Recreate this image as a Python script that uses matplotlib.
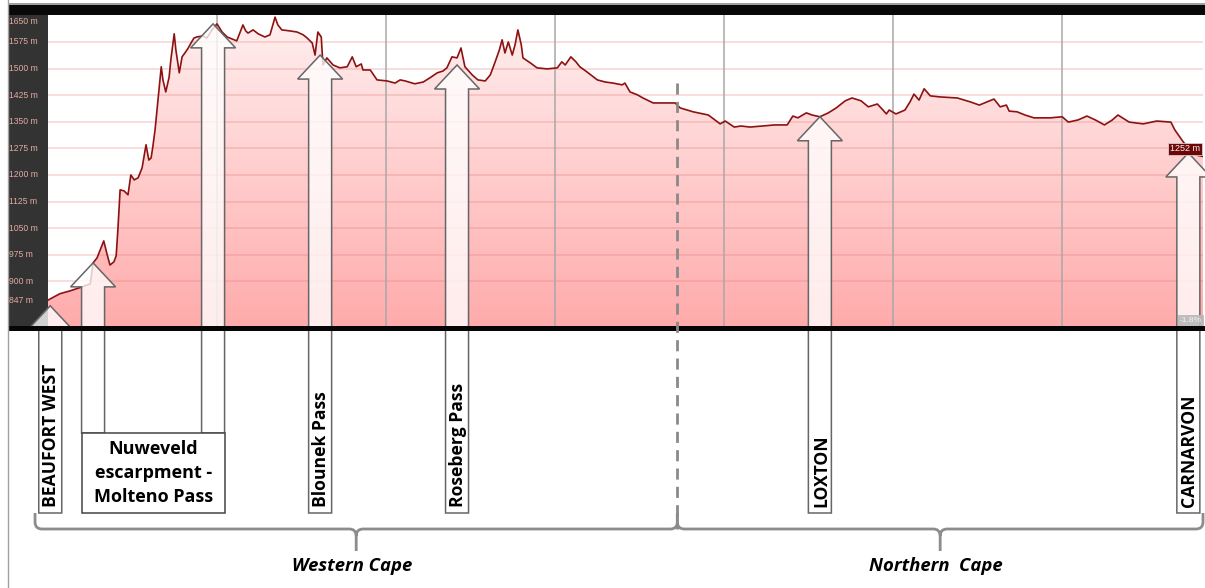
import numpy as np
import matplotlib
matplotlib.use('Agg')
import matplotlib.pyplot as plt
from matplotlib.patches import Polygon, Rectangle, PathPatch
from matplotlib.path import Path
from matplotlib.transforms import IdentityTransform
from matplotlib.lines import Line2D
from matplotlib.colors import LinearSegmentedColormap

# ---------------- data ----------------
dist_km = [0.0, 2.1, 3.9, 6.0, 7.5, 8.0, 8.7, 9.9, 10.5, 11.0,
           11.7, 12.1, 12.4, 12.8, 13.5, 14.2, 14.7, 15.3, 16.0, 16.7,
           17.4, 17.9, 18.3, 18.6, 19.0, 19.3, 19.7, 20.1, 20.4, 20.9,
           21.5, 21.8, 22.4, 22.7, 23.3, 23.8, 24.3, 24.9, 25.2, 25.9,
           26.4, 27.5, 28.2, 29.1, 30.0, 30.9, 31.8, 32.7, 33.5, 34.1,
           34.6, 35.1, 35.5, 36.4, 37.3, 38.5, 39.4, 39.9, 40.3, 40.8,
           41.5, 43.0, 44.2, 45.3, 46.0, 46.9, 47.4, 47.9, 48.5, 48.8,
           49.5, 50.6, 51.8, 53.1, 54.0, 54.7, 55.6, 55.9, 57.2, 58.4,
           60.2, 61.6, 62.5, 63.4, 65.1, 66.6, 67.8, 69.1, 70.1, 70.8,
           71.7, 72.6, 73.3, 74.0, 75.3, 76.3, 77.6, 78.5, 79.3, 80.1,
           80.6, 81.1, 81.7, 82.4, 82.9, 83.4, 84.0, 84.3, 85.6, 86.8,
           88.6, 90.4, 91.2, 91.8, 92.8, 93.7, 94.4, 95.7, 97.5, 98.9,
           100.3, 101.9, 102.4, 103.3, 104.6, 105.6, 107.4, 109.9, 111.3, 112.2,
           114.5, 117.2, 119.3, 120.2, 121.8, 123.0, 124.6, 126.7, 129.0, 131.2,
           132.2, 133.1, 134.6, 135.6, 137.0, 138.5, 139.9, 141.5, 142.7, 144.3,
           145.6, 147.2, 148.2, 148.8, 149.3, 150.5, 152.1, 153.0, 153.7, 154.6,
           155.5, 156.6, 158.3, 161.4, 163.7, 165.3, 166.7, 167.9, 169.0, 170.1,
           170.6, 172.0, 173.4, 175.0, 177.9, 180.0, 181.1, 182.8, 184.4, 185.9,
           187.5, 188.9, 189.9, 191.0, 191.9, 194.4, 196.8, 199.3, 200.0, 201.5,
           202.7, 203.8, 205.0]
elev_m = [847, 865, 873, 884, 893, 952, 966, 1014, 975, 946,
          955, 972, 1045, 1158, 1155, 1144, 1200, 1186, 1192, 1220,
          1285, 1242, 1248, 1279, 1327, 1375, 1440, 1505, 1468, 1434,
          1476, 1524, 1598, 1552, 1488, 1533, 1544, 1558, 1567, 1586,
          1589, 1592, 1586, 1609, 1626, 1603, 1589, 1583, 1578, 1603,
          1623, 1606, 1600, 1609, 1598, 1589, 1595, 1623, 1645, 1623,
          1609, 1606, 1603, 1595, 1586, 1572, 1538, 1603, 1589, 1510,
          1530, 1510, 1502, 1505, 1533, 1505, 1513, 1496, 1496, 1468,
          1465, 1459, 1468, 1465, 1457, 1462, 1474, 1488, 1493, 1502,
          1533, 1530, 1558, 1505, 1482, 1468, 1465, 1482, 1516, 1552,
          1581, 1544, 1575, 1538, 1567, 1609, 1567, 1530, 1516, 1502,
          1499, 1502, 1519, 1510, 1533, 1519, 1505, 1490, 1468, 1462,
          1459, 1454, 1459, 1434, 1426, 1417, 1403, 1403, 1403, 1389,
          1378, 1369, 1344, 1352, 1335, 1338, 1335, 1338, 1341, 1341,
          1366, 1361, 1375, 1369, 1364, 1375, 1389, 1409, 1417, 1409,
          1392, 1400, 1383, 1372, 1383, 1372, 1383, 1406, 1428, 1411,
          1443, 1423, 1420, 1417, 1406, 1397, 1406, 1414, 1392, 1397,
          1380, 1378, 1369, 1361, 1361, 1364, 1349, 1355, 1366, 1355,
          1341, 1355, 1369, 1358, 1349, 1344, 1352, 1349, 1327, 1293,
          1271, 1256, 1252]

y_ticks = [847, 900, 975, 1050, 1125, 1200, 1275, 1350, 1425, 1500, 1575, 1650]
y_tick_labels = [f'{v} m' for v in y_ticks]
grid_km = [30, 60, 90, 120, 150, 180]

places = ['BEAUFORT WEST', 'Blounek Pass', 'Roseberg Pass', 'LOXTON', 'CARNARVON']
place_km = [0.4, 48.3, 72.6, 137.0, 202.4]
place_tip_m = [831, 1538, 1510, 1364, 1262]

pass_label = 'Nuweveld\nescarpment -\nMolteno Pass'
pass_km = [8.0, 29.3]
pass_tip_m = [952, 1626]

border_km = 111.7
provinces = ['Western Cape', 'Northern  Cape']
province_km = [(-2.3, 111.7), (111.7, 205.0)]

end_label = '1252 m'
end_grade = '-1.8%'

# ---------------- figure ----------------
W, H = 1205, 588
fig = plt.figure(figsize=(W / 100, H / 100), dpi=100)
fig.patch.set_facecolor('white')
ax = fig.add_axes([48 / W, (H - 326) / H, 1155 / W, 311 / H])
YMIN, YMAX = 774, 1651
ax.set_xlim(0, 205)
ax.set_ylim(YMIN, YMAX)
ax.axis('off')

poly = ax.fill_between(dist_km, elev_m, YMIN, facecolor='none', edgecolor='none')
cmap = LinearSegmentedColormap.from_list('pinkgrad', ['#ffabab', '#fff0f0'])
grad = np.linspace(0, 1, 256).reshape(-1, 1)
im = ax.imshow(grad, extent=[0, 205, YMIN, YMAX], origin='lower', aspect='auto',
               cmap=cmap, zorder=1, interpolation='bilinear')
im.set_clip_path(poly.get_paths()[0], transform=ax.transData)

for v in y_ticks[1:-1]:
    ax.axhline(v, color='#e07878', alpha=0.3, lw=1.2, zorder=2)
for g in grid_km:
    ax.axvline(g, color='#a8a8a8', lw=1.1, zorder=2)
ax.plot(dist_km, elev_m, color='#8c1212', lw=1.2, zorder=3, solid_joinstyle='round')

ID = IdentityTransform()
FONT = ['Open Sans', 'DejaVu Sans']

# frame pieces
fig.add_artist(Rectangle((8, H - 326), 40, 311, facecolor='#333333', edgecolor='none',
                         transform=ID, zorder=1))
fig.add_artist(Rectangle((8, H - 15), W - 8, 10, facecolor='#080808', edgecolor='none',
                         transform=ID, zorder=6))
fig.add_artist(Rectangle((8, H - 5), W - 8, 2, facecolor='#a0a0a0', edgecolor='none',
                         transform=ID, zorder=6))
fig.add_artist(Rectangle((8, H - 331), W - 8, 5, facecolor='#050505', edgecolor='none',
                         transform=ID, zorder=6))
fig.add_artist(Line2D([7.5, 7.5], [0, H], color='#a0a0a0', lw=1, transform=ID, zorder=6))

# y tick labels in the dark panel
for v, lab in zip(y_ticks, y_tick_labels):
    _, yy = ax.transData.transform((0, v))
    if v == y_ticks[-1]:
        yy = H - 21
    fig.text(9, yy, lab, ha='left', va='center', color='#e3aaa2', fontsize=6.2,
             family=['Liberation Sans', 'DejaVu Sans'], transform=ID, zorder=7)


def draw_arrow(km, tip_m, bottom_img_y):
    x, yt = ax.transData.transform((km, tip_m))
    hb = yt - 24
    yb = H - bottom_img_y
    pts = [(x, yt), (x + 22.5, hb), (x + 11.5, hb), (x + 11.5, yb),
           (x - 11.5, yb), (x - 11.5, hb), (x - 22.5, hb)]
    fig.add_artist(Polygon(pts, closed=True, transform=ID, facecolor=(1, 1, 1, 0.78),
                           edgecolor='#666666', lw=1.1, zorder=5))
    return x


for name, km, tip in zip(places, place_km, place_tip_m):
    x = draw_arrow(km, tip, 513)
    fig.text(x + 1, H - 507, name, rotation=90, ha='center', va='bottom', fontsize=12.6,
             fontweight='bold', family=FONT, color='#000000', transform=ID, zorder=8)

xs = [draw_arrow(km, tip, 433) for km, tip in zip(pass_km, pass_tip_m)]
fig.add_artist(Rectangle((xs[0] - 11.5, H - 513), (xs[1] - xs[0]) + 23, 80,
                         facecolor='white', edgecolor='#444444', lw=1.1,
                         transform=ID, zorder=5))
fig.text((xs[0] + xs[1]) / 2, H - 473, pass_label, ha='center', va='center',
         fontsize=13, fontweight='bold', family=FONT, linespacing=1.42,
         color='#000000', transform=ID, zorder=8)

# dashed border
xb, _ = ax.transData.transform((border_km, YMIN))
fig.add_artist(Line2D([xb, xb], [H - 83, H - 529], color='#8a8a8a', lw=2,
                      dashes=(4, 2.6), transform=ID, zorder=7))

# province braces
for name, (k0, k1) in zip(provinces, province_km):
    x0, _ = ax.transData.transform((k0, YMIN))
    x1, _ = ax.transData.transform((k1, YMIN))
    xc = (x0 + x1) / 2
    yl = H - 529
    ytop = H - 513
    ybot = H - 551
    r = 7
    verts = [(x0, ytop), (x0, yl + r), (x0, yl), (x0 + r, yl),
             (xc - r, yl), (xc, yl), (xc, yl - r), (xc, ybot),
             (xc, yl - r), (xc, yl), (xc + r, yl),
             (x1 - r, yl), (x1, yl), (x1, yl + r), (x1, ytop)]
    codes = [Path.MOVETO, Path.LINETO, Path.CURVE3, Path.CURVE3,
             Path.LINETO, Path.CURVE3, Path.CURVE3, Path.LINETO,
             Path.MOVETO, Path.CURVE3, Path.CURVE3,
             Path.LINETO, Path.CURVE3, Path.CURVE3, Path.LINETO]
    fig.add_artist(PathPatch(Path(verts, codes), facecolor='none', edgecolor='#8c8c8c',
                             lw=2, transform=ID, zorder=6))
    fig.text(xc - 4, H - 566, name, ha='center', va='center', fontsize=13.3,
             fontweight='bold', style='italic', family=FONT, color='#000000',
             transform=ID, zorder=8)

# end labels
xe, ye = ax.transData.transform((dist_km[-1], elev_m[-1]))
fig.text(xe - 3, ye + 3, end_label, ha='right', va='bottom', fontsize=6.5, color='#f4f4f4',
         family=['Liberation Sans', 'DejaVu Sans'], transform=ID, zorder=9,
         bbox=dict(boxstyle='square,pad=0.2', facecolor='#6e0606', edgecolor='#d0d0d0', lw=0.6))
fig.text(W - 3, H - 324, end_grade, ha='right', va='bottom', fontsize=6, color='#f4f4f4',
         family=['Liberation Sans', 'DejaVu Sans'], transform=ID, zorder=9,
         bbox=dict(boxstyle='square,pad=0.2', facecolor='#b8b8b8', edgecolor='none', alpha=0.9))

fig.savefig('out.png', dpi=100)
